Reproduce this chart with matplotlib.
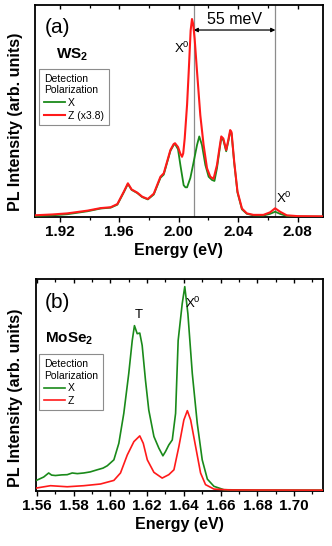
import matplotlib
matplotlib.use("Agg")
import matplotlib.pyplot as plt
from matplotlib.ticker import MultipleLocator

plt.rcParams['font.family'] = ['Liberation Sans', 'DejaVu Sans']
plt.rcParams['mathtext.fontset'] = 'custom'
plt.rcParams['mathtext.rm'] = 'Liberation Sans'
plt.rcParams['mathtext.bf'] = 'Liberation Sans:bold'
plt.rcParams['mathtext.it'] = 'Liberation Sans:italic'

# ---------------- Panel (a): WS2 ----------------
ws2_energy_z = [1.903, 1.915, 1.925, 1.9386, 1.9475, 1.9542, 1.9587, 1.9631, 1.9658, 1.9683,
                1.9721, 1.9754, 1.9792, 1.9832, 1.9877, 1.9899, 1.9915, 1.9944, 1.9966, 1.9975,
                1.9995, 2.0010, 2.0022, 2.0030, 2.0040, 2.0056, 2.0067, 2.0080, 2.0089, 2.0097,
                2.0107, 2.0123, 2.0145, 2.0167, 2.0190, 2.0212, 2.0234, 2.0257, 2.0275, 2.0286,
                2.0300, 2.0319, 2.0335, 2.0346, 2.0355, 2.0373, 2.0395, 2.0425, 2.0458, 2.0502,
                2.0569, 2.0614, 2.0648, 2.0681, 2.0726, 2.0800, 2.0968]
ws2_z = [0.008, 0.012, 0.017, 0.030, 0.042, 0.046, 0.061, 0.120, 0.159, 0.130,
         0.115, 0.096, 0.085, 0.110, 0.190, 0.206, 0.245, 0.316, 0.344, 0.348,
         0.330, 0.300, 0.284, 0.300, 0.370, 0.530, 0.685, 0.880, 0.934, 0.910,
         0.840, 0.685, 0.480, 0.340, 0.230, 0.190, 0.180, 0.245, 0.330, 0.380,
         0.370, 0.316, 0.370, 0.410, 0.400, 0.260, 0.120, 0.040, 0.017, 0.010,
         0.010, 0.022, 0.041, 0.025, 0.008, 0.004, 0.003]

ws2_energy_x = [1.903, 1.915, 1.925, 1.9386, 1.9475, 1.9542, 1.9587, 1.9631, 1.9658, 1.9683,
                1.9721, 1.9754, 1.9792, 1.9832, 1.9877, 1.9899, 1.9915, 1.9944, 1.9966, 1.9975,
                1.9995, 2.0011, 2.0033, 2.0045, 2.0056, 2.0078, 2.0096, 2.0123, 2.0138, 2.0156,
                2.0179, 2.0201, 2.0223, 2.0240, 2.0257, 2.0275, 2.0286, 2.0300, 2.0319, 2.0335,
                2.0346, 2.0355, 2.0373, 2.0395, 2.0425, 2.0458, 2.0502, 2.0569, 2.0614, 2.0648,
                2.0681, 2.0726, 2.0800, 2.0968]
ws2_x = [0.005, 0.008, 0.013, 0.027, 0.040, 0.044, 0.058, 0.117, 0.156, 0.128,
         0.113, 0.094, 0.083, 0.106, 0.185, 0.200, 0.240, 0.312, 0.340, 0.344,
         0.320, 0.245, 0.150, 0.140, 0.140, 0.184, 0.245, 0.340, 0.380, 0.340,
         0.245, 0.190, 0.175, 0.170, 0.230, 0.320, 0.372, 0.362, 0.310, 0.362,
         0.404, 0.394, 0.255, 0.115, 0.036, 0.015, 0.008, 0.007, 0.015, 0.025,
         0.015, 0.005, 0.002, 0.002]

# ---------------- Panel (b): MoSe2 ----------------
mose2_energy_x = [1.5597, 1.5637, 1.5664, 1.5680, 1.5701, 1.5735, 1.5765, 1.5792, 1.5820, 1.5855,
                  1.5890, 1.5928, 1.5960, 1.5983, 1.6019, 1.6046, 1.6073, 1.6100, 1.6119, 1.6131,
                  1.6146, 1.6160, 1.6173, 1.6191, 1.6209, 1.6237, 1.6264, 1.6286, 1.6300, 1.6318,
                  1.6337, 1.6355, 1.6369, 1.6391, 1.6405, 1.6422, 1.6446, 1.6473, 1.6500, 1.6528,
                  1.6564, 1.6618, 1.6800, 1.7163]
mose2_x = [0.050, 0.066, 0.085, 0.075, 0.073, 0.076, 0.077, 0.085, 0.082, 0.085,
           0.090, 0.100, 0.108, 0.119, 0.147, 0.225, 0.366, 0.554, 0.710, 0.780,
           0.742, 0.745, 0.687, 0.523, 0.382, 0.257, 0.202, 0.166, 0.186, 0.217,
           0.241, 0.366, 0.710, 0.883, 0.964, 0.836, 0.554, 0.319, 0.147, 0.056,
           0.022, 0.006, 0.004, 0.004]

mose2_energy_z = [1.5597, 1.5674, 1.5765, 1.5855, 1.5946, 1.6019, 1.6055, 1.6092, 1.6128, 1.6160,
                  1.6179, 1.6201, 1.6237, 1.6282, 1.6318, 1.6346, 1.6373, 1.6400, 1.6419, 1.6437,
                  1.6464, 1.6491, 1.6518, 1.6564, 1.6650, 1.7163]
mose2_z = [0.014, 0.025, 0.020, 0.025, 0.033, 0.050, 0.085, 0.170, 0.233, 0.260,
           0.225, 0.147, 0.088, 0.061, 0.077, 0.100, 0.210, 0.335, 0.379, 0.335,
           0.210, 0.085, 0.030, 0.009, 0.005, 0.004]

ws2_xticks = [1.92, 1.96, 2.00, 2.04, 2.08]
mose2_xticks = [1.56, 1.58, 1.60, 1.62, 1.64, 1.66, 1.68, 1.70]
x0_line_energies = [2.010, 2.065]

GREEN = '#1a8a1a'
RED = '#ff1a1a'

fig = plt.figure(figsize=(3.32, 5.46), dpi=100)
ax1 = fig.add_axes([34.5 / 332, 1 - 217 / 546, (322.7 - 34.5) / 332, 212 / 546])
ax2 = fig.add_axes([36 / 332, 1 - 491 / 546, (322.7 - 36) / 332, 212 / 546])


def style_axis(ax, xlim, minor, ticks):
    ax.set_xlim(*xlim)
    ax.set_ylim(0, 1)
    ax.set_xticks(ticks)
    ax.xaxis.set_minor_locator(MultipleLocator(minor))
    ax.set_yticks([])
    for s in ax.spines.values():
        s.set_linewidth(1.3)
    ax.tick_params(axis='x', which='major', direction='out', length=3.5, width=1.0,
                   labelsize=11, pad=2)
    ax.tick_params(axis='x', which='minor', direction='out', length=2.5, width=0.9)
    for lab in ax.get_xticklabels():
        lab.set_fontweight('bold')
    ax.set_xlabel('Energy (eV)', fontsize=11.5, fontweight='bold', labelpad=3)
    ax.set_ylabel('PL Intensity (arb. units)', fontsize=11.5, fontweight='bold')
    top = ax.twiny()
    top.set_xlim(*xlim)
    top.set_xticks(ticks)
    top.xaxis.set_minor_locator(MultipleLocator(minor))
    top.tick_params(axis='x', which='major', direction='in', length=3, width=1.0,
                    labeltop=False)
    top.tick_params(axis='x', which='minor', direction='in', length=2.5, width=0.9)
    top.set_xticklabels([])
    for s in top.spines.values():
        s.set_visible(False)
    return top


def make_legend(ax, anchor):
    leg = ax.legend(loc='upper left', bbox_to_anchor=anchor, borderaxespad=0,
                    title='Detection\nPolarization', fontsize=7.5, title_fontsize=7.5,
                    frameon=True, fancybox=False, edgecolor='#8c8c8c', framealpha=1,
                    handlelength=2.0, handletextpad=0.3, labelspacing=0.25,
                    borderpad=0.45, alignment='left')
    leg.get_frame().set_linewidth(0.8)
    return leg


# ---- Panel (a)
ax1.plot(ws2_energy_x, ws2_x, color=GREEN, lw=1.3, label='X', zorder=3)
ax1.plot(ws2_energy_z, ws2_z, color=RED, lw=1.5, label='Z (x3.8)', zorder=4)
for e in x0_line_energies:
    ax1.axvline(e, color='#8c8c8c', lw=0.9, zorder=2)
style_axis(ax1, (1.903, 2.0968), 0.02, ws2_xticks)
ax1.yaxis.set_label_coords(-0.04, 0.45)
ax1.annotate('', xy=(x0_line_energies[0], 0.882), xytext=(x0_line_energies[1], 0.882),
             arrowprops=dict(arrowstyle='<|-|>', color='black', lw=0.9,
                             mutation_scale=6, shrinkA=0, shrinkB=0))
ax1.text(2.0375, 0.93, '55 meV', fontsize=11.5, ha='center', va='center')
ax1.text(2.0022, 0.795, 'X$^{0}$', fontsize=9.5, ha='center', va='center')
ax1.text(2.0705, 0.09, 'X$^{0}$', fontsize=9.5, ha='center', va='center')
ax1.text(0.036, 0.895, '(a)', transform=ax1.transAxes, fontsize=15, ha='left', va='center')
ax1.text(0.073, 0.765, r'$\mathbf{WS_2}$', transform=ax1.transAxes, fontsize=11,
         ha='left', va='center')
make_legend(ax1, (0.017, 0.698))

# ---- Panel (b)
ax2.plot(mose2_energy_x, mose2_x, color=GREEN, lw=1.2, label='X', zorder=3)
ax2.plot(mose2_energy_z, mose2_z, color=RED, lw=1.2, label='Z', zorder=4)
style_axis(ax2, (1.5595, 1.7156), 0.01, mose2_xticks)
ax2.yaxis.set_label_coords(-0.045, 0.44)
ax2.text(1.6155, 0.83, 'T', fontsize=9.5, ha='center', va='center')
ax2.text(1.6452, 0.885, 'X$^{0}$', fontsize=9.5, ha='center', va='center')
ax2.text(0.03, 0.89, '(b)', transform=ax2.transAxes, fontsize=15, ha='left', va='center')
ax2.text(0.033, 0.72, r'$\mathbf{MoSe_2}$', transform=ax2.transAxes, fontsize=11,
         ha='left', va='center')
make_legend(ax2, (0.012, 0.645))

fig.savefig('out.png', dpi=100)
